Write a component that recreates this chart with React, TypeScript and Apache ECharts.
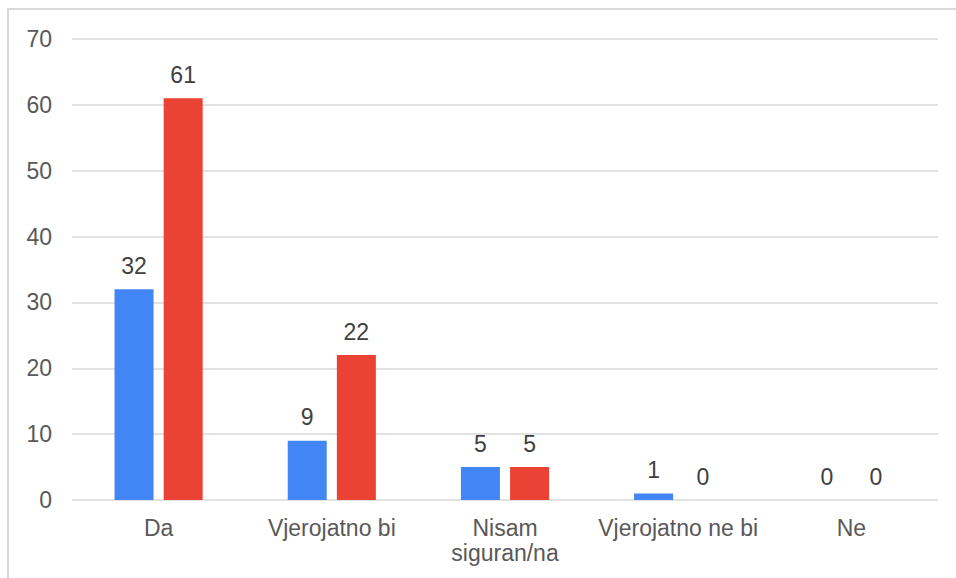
import React, { useEffect, useRef } from "react";
import * as echarts from "echarts";

const categories = ["Da", "Vjerojatno bi", "Nisam\nsiguran/na", "Vjerojatno ne bi", "Ne"];
const seriesBlue = [32, 9, 5, 1, 0];
const seriesRed = [61, 22, 5, 0, 0];
const yTicks = { min: 0, max: 70, interval: 10 };

export default function App() {
  const ref = useRef<HTMLDivElement>(null);
  useEffect(() => {
    document.body.style.margin = "0";
    const chart = echarts.init(ref.current!, null, { renderer: "svg" });
    const font = "Liberation Sans, Arial, sans-serif";
    const labelStyle = {
      show: true,
      position: "top" as const,
      distance: 12,
      color: "#404040",
      fontSize: 23,
      fontWeight: "normal" as const,
      fontFamily: font,
    };
    chart.setOption({
      animation: false,
      backgroundColor: "#ffffff",
      textStyle: { fontFamily: font },
      graphic: [
        {
          type: "rect",
          shape: { x: 8, y: 9, width: 1200, height: 1000 },
          style: { fill: "none", stroke: "#d9d9d9", lineWidth: 2 },
          silent: true,
          z: -10,
        },
      ],
      grid: { left: 72, right: 18, top: 39, bottom: 78, containLabel: false },
      xAxis: {
        type: "category",
        data: categories,
        axisLine: { show: false },
        axisTick: { show: false },
        axisLabel: {
          color: "#595959",
          fontSize: 23,
          fontFamily: font,
          margin: 15,
          lineHeight: 25,
          interval: 0,
        },
      },
      yAxis: {
        type: "value",
        min: yTicks.min,
        max: yTicks.max,
        interval: yTicks.interval,
        axisLine: { show: false },
        axisTick: { show: false },
        axisLabel: { color: "#595959", fontSize: 23, fontFamily: font, margin: 20 },
        splitLine: { lineStyle: { color: "#d9d9d9", width: 1.5 } },
      },
      series: [
        {
          type: "bar",
          name: "A",
          data: seriesBlue,
          itemStyle: { color: "#4285F4" },
          barWidth: 39,
          barGap: "26%",
          label: labelStyle,
        },
        {
          type: "bar",
          name: "B",
          data: seriesRed,
          itemStyle: { color: "#EA4335" },
          barWidth: 39,
          label: labelStyle,
        },
      ],
    });
    return () => chart.dispose();
  }, []);
  return <div ref={ref} style={{ position: "fixed", left: 0, top: 0, width: 956, height: 578 }} />;
}
